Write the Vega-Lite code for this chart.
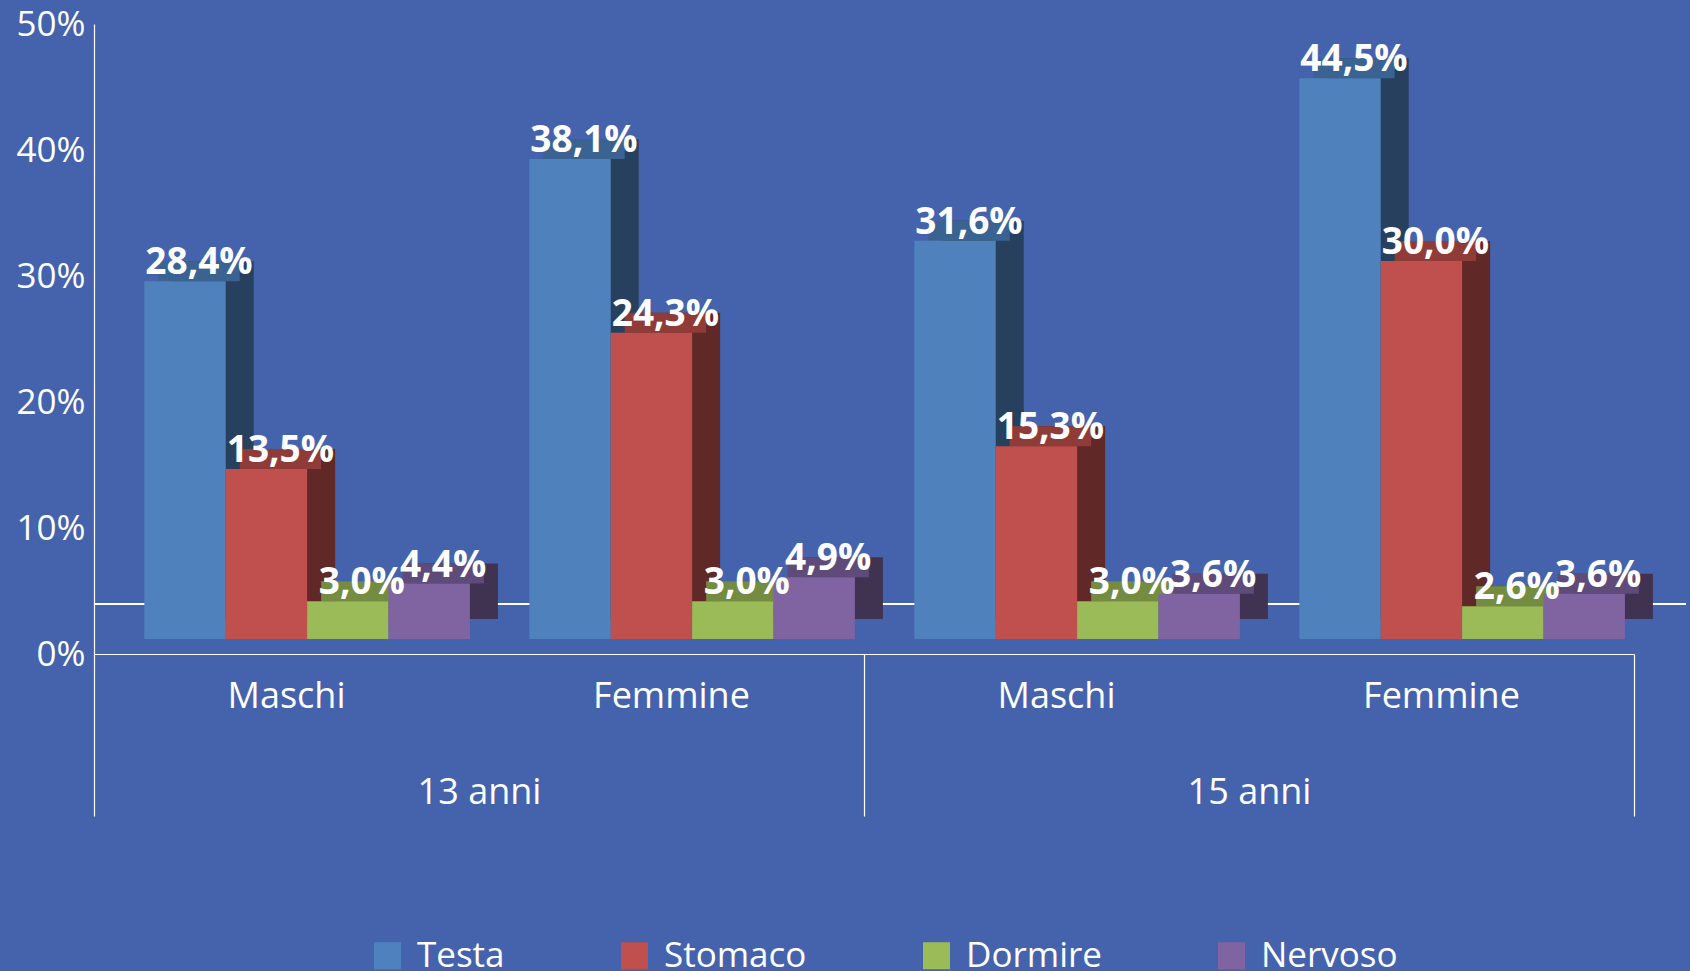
{
  "$schema": "https://vega.github.io/schema/vega-lite/v6.json",
  "width": 1540,
  "height": 630,
  "autosize": {"type": "none"},
  "padding": {"left": 94, "top": 24, "right": 56, "bottom": 317},
  "background": "#4563ad",
  "config": {
    "locale": {"number": {"decimal": ",", "thousands": ".", "grouping": [3], "currency": ["", " €"]}},
    "view": {"stroke": null},
    "font": "Open Sans",
    "axis": {"labelColor": "white", "domainColor": "white", "labelFont": "Open Sans", "grid": false, "title": null}
  },
  "data": {
    "values": [
      {"eta": "13 anni", "gruppo": "13 anni Maschi", "sintomo": "Testa", "valore": 0.284},
      {"eta": "13 anni", "gruppo": "13 anni Maschi", "sintomo": "Stomaco", "valore": 0.135},
      {"eta": "13 anni", "gruppo": "13 anni Maschi", "sintomo": "Dormire", "valore": 0.030},
      {"eta": "13 anni", "gruppo": "13 anni Maschi", "sintomo": "Nervoso", "valore": 0.044},
      {"eta": "13 anni", "gruppo": "13 anni Femmine", "sintomo": "Testa", "valore": 0.381},
      {"eta": "13 anni", "gruppo": "13 anni Femmine", "sintomo": "Stomaco", "valore": 0.243},
      {"eta": "13 anni", "gruppo": "13 anni Femmine", "sintomo": "Dormire", "valore": 0.030},
      {"eta": "13 anni", "gruppo": "13 anni Femmine", "sintomo": "Nervoso", "valore": 0.049},
      {"eta": "15 anni", "gruppo": "15 anni Maschi", "sintomo": "Testa", "valore": 0.316},
      {"eta": "15 anni", "gruppo": "15 anni Maschi", "sintomo": "Stomaco", "valore": 0.153},
      {"eta": "15 anni", "gruppo": "15 anni Maschi", "sintomo": "Dormire", "valore": 0.030},
      {"eta": "15 anni", "gruppo": "15 anni Maschi", "sintomo": "Nervoso", "valore": 0.036},
      {"eta": "15 anni", "gruppo": "15 anni Femmine", "sintomo": "Testa", "valore": 0.445},
      {"eta": "15 anni", "gruppo": "15 anni Femmine", "sintomo": "Stomaco", "valore": 0.300},
      {"eta": "15 anni", "gruppo": "15 anni Femmine", "sintomo": "Dormire", "valore": 0.026},
      {"eta": "15 anni", "gruppo": "15 anni Femmine", "sintomo": "Nervoso", "valore": 0.036}
    ]
  },
  "resolve": {"scale": {"x": "independent", "xOffset": "independent"}, "axis": {"x": "independent"}},
  "layer": [
    {
      "mark": {"type": "rule", "color": "white", "strokeWidth": 1.2, "opacity": 0.85, "yOffset": -50, "xOffset": 52, "x2Offset": 56},
      "encoding": {"y": {"datum": 0, "type": "quantitative"}}
    },
    {
      "mark": {"type": "bar", "yOffset": -35, "y2Offset": -35},
      "encoding": {
        "x": {"field": "gruppo", "type": "nominal", "sort": null, "scale": {"domain": ["13 anni Maschi", "13 anni Femmine", "15 anni Maschi", "15 anni Femmine"], "range": [28, 1568], "paddingInner": 0, "paddingOuter": 0}, "axis": null},
        "xOffset": {"field": "sintomo", "sort": null, "scale": {"domain": ["Testa", "Stomaco", "Dormire", "Nervoso"], "paddingInner": 0, "paddingOuter": 0.365, "align": 0.847}},
        "y": {"field": "valore", "type": "quantitative", "scale": {"domain": [0, 0.5]}},
        "fill": {"condition": [
          {"test": "datum.sintomo === 'Testa'", "value": "#27405e"},
          {"test": "datum.sintomo === 'Stomaco'", "value": "#602826"},
          {"test": "datum.sintomo === 'Dormire'", "value": "#4d5d2c"}
        ], "value": "#403251"}
      }
    },
    {
      "mark": {"type": "bar", "yOffset": -35, "y2Offset": -15},
      "encoding": {
        "x": {"field": "gruppo", "type": "nominal", "sort": null, "scale": {"domain": ["13 anni Maschi", "13 anni Femmine", "15 anni Maschi", "15 anni Femmine"], "range": [14, 1554], "paddingInner": 0, "paddingOuter": 0}, "axis": null},
        "xOffset": {"field": "sintomo", "sort": null, "scale": {"domain": ["Testa", "Stomaco", "Dormire", "Nervoso"], "paddingInner": 0, "paddingOuter": 0.365, "align": 0.847}},
        "y": {"field": "valore", "type": "quantitative"},
        "y2": {"field": "valore"},
        "fill": {"condition": [
          {"test": "datum.sintomo === 'Testa'", "value": "#3a6392"},
          {"test": "datum.sintomo === 'Stomaco'", "value": "#8f3c39"},
          {"test": "datum.sintomo === 'Dormire'", "value": "#748b42"}
        ], "value": "#5f4b79"}
      }
    },
    {
      "mark": {"type": "bar", "yOffset": -15, "y2Offset": -15},
      "encoding": {
        "x": {"field": "gruppo", "type": "nominal", "sort": null, "scale": {"domain": ["13 anni Maschi", "13 anni Femmine", "15 anni Maschi", "15 anni Femmine"], "paddingInner": 0, "paddingOuter": 0},
          "axis": {"orient": "bottom", "ticks": false, "domain": true, "domainColor": "white", "domainWidth": 1.2, "labelFontSize": 36, "labelPadding": 42, "labelBaseline": "middle", "labelAngle": 0, "labelExpr": "split(datum.label, ' ')[2]"}},
        "xOffset": {"field": "sintomo", "sort": null, "scale": {"domain": ["Testa", "Stomaco", "Dormire", "Nervoso"], "paddingInner": 0, "paddingOuter": 0.365, "align": 0.847}},
        "y": {"field": "valore", "type": "quantitative",
          "axis": {"values": [0, 0.1, 0.2, 0.3, 0.4, 0.5], "format": ".0%", "ticks": false, "domainColor": "white", "domainWidth": 1.2, "labelFontSize": 35, "labelPadding": 9, "title": null}},
        "color": {"field": "sintomo", "type": "nominal", "sort": null,
          "scale": {"domain": ["Testa", "Stomaco", "Dormire", "Nervoso"], "range": ["#4f81bd", "#c0504d", "#9bbb59", "#8064a2"]},
          "legend": {"orient": "none", "legendX": 276, "legendY": 914, "direction": "horizontal", "title": null, "symbolType": "square", "symbolSize": 729, "symbolStrokeWidth": 0, "labelFontSize": 35, "labelColor": "white", "labelFont": "Open Sans", "labelOffset": 12, "columnPadding": 112, "padding": 0, "labelLimit": 300}}
      }
    },
    {
      "mark": {"type": "text", "dx": 14, "dy": -22, "baseline": "alphabetic", "align": "center", "fontSize": 37, "fontWeight": "bold", "font": "Open Sans", "color": "white"},
      "encoding": {
        "x": {"field": "gruppo", "type": "nominal", "sort": null, "scale": {"type": "band", "domain": ["13 anni Maschi", "13 anni Femmine", "15 anni Maschi", "15 anni Femmine"], "paddingInner": 0, "paddingOuter": 0}, "axis": null},
        "xOffset": {"field": "sintomo", "sort": null, "scale": {"type": "band", "domain": ["Testa", "Stomaco", "Dormire", "Nervoso"], "paddingInner": 0, "paddingOuter": 0.365, "align": 0.847}},
        "y": {"field": "valore", "type": "quantitative"},
        "text": {"field": "valore", "type": "quantitative", "format": ".1%"}
      }
    },
    {
      "mark": {"type": "tick", "opacity": 0},
      "encoding": {
        "x": {"field": "eta", "type": "nominal", "sort": null, "scale": {"domain": ["13 anni", "15 anni"], "paddingInner": 0, "paddingOuter": 0},
          "axis": {"orient": "bottom", "tickBand": "extent", "ticks": true, "tickSize": 162, "tickColor": "white", "tickWidth": 1.2, "domain": false, "labelFontSize": 36, "labelBaseline": "middle", "labelPadding": -24, "labelAngle": 0, "labelColor": "white"}}
      }
    }
  ]
}
